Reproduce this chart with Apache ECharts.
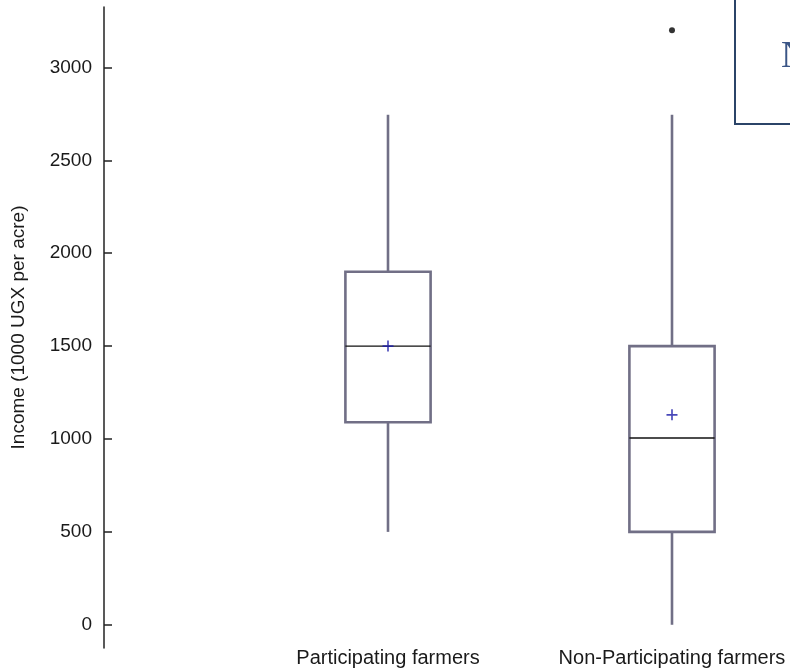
<!DOCTYPE html>
<html>
<head>
<meta charset="utf-8">
<script src="https://cdn.jsdelivr.net/npm/echarts@6/dist/echarts.min.js"></script>
<style>html,body{margin:0;padding:0;background:#fff}#c{width:790px;height:669px}</style>
</head>
<body>
<div id="c"></div>
<script>
const categories = ['Participating farmers', 'Non-Participating farmers'];
const categoryPos = [1, 2];
const whiskerLow = [500, 0];
const q1 = [1090, 500];
const median = [1500, 1005];
const q3 = [1900, 1500];
const whiskerHigh = [2745, 2745];
const means = [1500, 1130];
const outliers = [[2, 3200]];
const yTicks = [0, 500, 1000, 1500, 2000, 2500, 3000];
const yName = 'Income (1000 UGX per acre)';
const noteText = 'N';

const font = "'Liberation Sans', Arial, sans-serif";
const boxData = categories.map((c, i) => [categoryPos[i], whiskerLow[i], q1[i], median[i], q3[i], whiskerHigh[i]]);
const meanData = categories.map((c, i) => [categoryPos[i], means[i]]);

const chart = echarts.init(document.getElementById('c'), null, {renderer: 'canvas'});
chart.setOption({
  animation: false,
  backgroundColor: '#fff',
  grid: {left: 104, right: 0, top: 7, height: 641},
  xAxis: {
    type: 'value',
    min: 0,
    max: 2.4155,
    axisLine: {show: false},
    axisTick: {show: false},
    axisLabel: {
      customValues: categoryPos,
      formatter: function (v) { return categories[categoryPos.indexOf(v)] || ''; },
      fontFamily: font, fontSize: 20, color: '#1a1a1a', margin: 0, verticalAlign: 'top'
    },
    splitLine: {show: false}
  },
  yAxis: {
    type: 'value',
    min: -125,
    max: 3325,
    name: yName,
    nameLocation: 'middle',
    nameGap: 76,
    nameTextStyle: {fontFamily: font, fontSize: 19, color: '#1a1a1a'},
    axisLine: {show: true, lineStyle: {color: '#222', width: 1.5}},
    axisTick: {show: true, inside: true, length: 8, customValues: yTicks, lineStyle: {color: '#222', width: 1.5}},
    axisLabel: {customValues: yTicks, formatter: function (v) { return String(v); }, fontFamily: font, fontSize: 19, color: '#1a1a1a', margin: 12},
    splitLine: {show: false}
  },
  series: [
    {
      type: 'custom',
      data: boxData,
      z: 2,
      renderItem: function (params, api) {
        const x = api.value(0);
        const band = api.size([1, 0])[0];
        const hw = band * 0.15;
        const pLow = api.coord([x, api.value(1)]);
        const pQ1 = api.coord([x, api.value(2)]);
        const pMed = api.coord([x, api.value(3)]);
        const pQ3 = api.coord([x, api.value(4)]);
        const pHigh = api.coord([x, api.value(5)]);
        const cx = pMed[0];
        const col = '#716f86';
        const st = {stroke: col, lineWidth: 2.6, fill: null};
        return {
          type: 'group',
          children: [
            {type: 'line', shape: {x1: cx, y1: pQ1[1], x2: cx, y2: pLow[1]}, style: st},
            {type: 'line', shape: {x1: cx, y1: pQ3[1], x2: cx, y2: pHigh[1]}, style: st},
            {type: 'rect', shape: {x: cx - hw, y: pQ3[1], width: hw * 2, height: pQ1[1] - pQ3[1]}, style: {stroke: col, lineWidth: 2.6, fill: '#fff'}},
            {type: 'line', shape: {x1: cx - hw, y1: pMed[1], x2: cx + hw, y2: pMed[1]}, style: {stroke: '#111', lineWidth: 1.4}}
          ]
        };
      }
    },
    {
      type: 'scatter',
      data: meanData,
      z: 3,
      symbol: 'path://M4.25,0h1.5v10h-1.5zM0,4.25h10v1.5h-10z',
      symbolSize: 11,
      itemStyle: {color: '#1a1aa8'}
    },
    {
      type: 'scatter',
      data: outliers,
      z: 3,
      symbol: 'circle',
      symbolSize: 6,
      itemStyle: {color: '#000'}
    }
  ],
  graphic: [
    {type: 'rect', left: 734, top: -10, shape: {width: 120, height: 133}, style: {fill: '#fff', stroke: '#2b4468', lineWidth: 2}, z: 10},
    {type: 'text', left: 781, top: 38, style: {text: noteText, font: "38px 'Liberation Serif', serif", fill: '#3a5586'}, z: 11}
  ]
});
</script>
</body>
</html>
